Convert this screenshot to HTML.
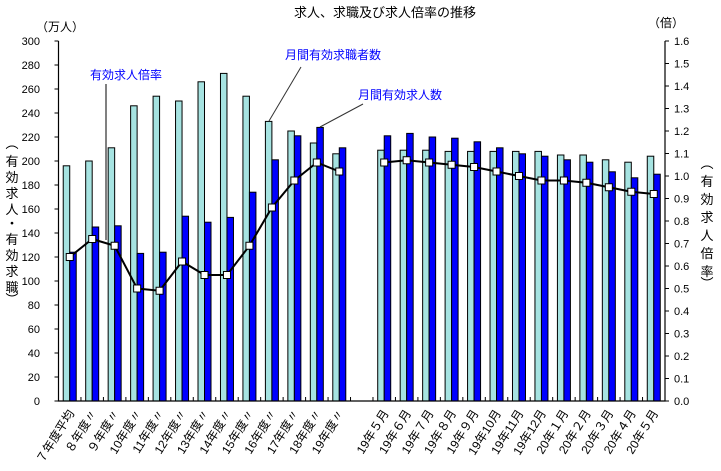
<!DOCTYPE html>
<html><head><meta charset="utf-8"><style>
body{margin:0;background:#fff;}
svg{display:block;font-family:"Liberation Sans","Noto Sans CJK JP",sans-serif;}
</style></head><body>
<svg id="c" width="721" height="471" viewBox="0 0 721 471">
<text x="385" y="17" font-size="13" text-anchor="middle">求人、求職及び求人倍率の推移</text>
<text x="60" y="31" font-size="12" text-anchor="middle">（万人）</text>
<text x="666" y="27" font-size="12" text-anchor="middle">（倍）</text>
<g font-size="13" text-anchor="middle">
<text x="12" y="148">︵</text><text x="12" y="166">有</text><text x="12" y="182">効</text><text x="12" y="198">求</text><text x="12" y="214">人</text><text x="12" y="228">・</text><text x="12" y="244">有</text><text x="12" y="260">効</text><text x="12" y="276">求</text><text x="12" y="292">職</text><text x="12" y="304">︶</text>
</g>
<g font-size="13" text-anchor="middle">
<text x="707" y="168">︵</text><text x="707" y="186">有</text><text x="707" y="204">効</text><text x="707" y="222">求</text><text x="707" y="240">人</text><text x="707" y="258">倍</text><text x="707" y="276">率</text><text x="707" y="288">︶</text>
</g>
<g id="plot"></g>
<g>
<text x="90" y="79" font-size="12" fill="#0000ff">有効求人倍率</text>
<line x1="106" y1="84" x2="106" y2="240" stroke="#000" stroke-width="1"/>
<text x="285" y="59" font-size="12" fill="#0000ff">月間有効求職者数</text>
<line x1="301" y1="67" x2="269" y2="121" stroke="#333" stroke-width="1"/>
<text x="358" y="99" font-size="12" fill="#0000ff">月間有効求人数</text>
<line x1="363" y1="104" x2="320" y2="127" stroke="#333" stroke-width="1"/>
</g>
</svg>
<script>
const categories=["７年度平均","８年度〃","９年度〃","10年度〃","11年度〃","12年度〃","13年度〃","14年度〃","15年度〃","16年度〃","17年度〃","18年度〃","19年度〃",null,"19年５月","19年６月","19年７月","19年８月","19年９月","19年10月","19年11月","19年12月","20年１月","20年２月","20年３月","20年４月","20年５月"];
const seekers=[196,200,211,246,254,250,266,273,254,233,225,215,206,null,209,209,209,208,208,208,208,208,205,205,201,199,204];
const openings=[124,145,146,123,124,154,149,153,174,201,221,228,211,null,221,223,220,219,216,211,206,204,201,199,191,186,189];
const ratio=[0.64,0.72,0.69,0.50,0.49,0.62,0.56,0.56,0.69,0.86,0.98,1.06,1.02,null,1.06,1.07,1.06,1.05,1.04,1.02,1.00,0.98,0.98,0.97,0.95,0.93,0.92];
const leftTicks=[0,20,40,60,80,100,120,140,160,180,200,220,240,260,280,300];
const rightTicks=["0.0","0.1","0.2","0.3","0.4","0.5","0.6","0.7","0.8","0.9","1.0","1.1","1.2","1.3","1.4","1.5","1.6"];

const X0=58.5,X1=665,Y0=401,YT=41,N=categories.length,slot=(X1-X0)/N;
const yL=v=>Y0-(v/300)*(Y0-YT);
const yR=v=>Y0-(v/1.6)*(Y0-YT);
const xc=i=>X0+slot*(i+0.5);
const NS="http://www.w3.org/2000/svg";
const g=document.getElementById('plot');
function mk(t,a){const e=document.createElementNS(NS,t);for(const k in a)e.setAttribute(k,a[k]);g.appendChild(e);return e;}
const bw=6.5;
categories.forEach((c,i)=>{
  if(c===null)return;
  const x=xc(i);
  const b1=mk('rect',{x:x-bw,y:yL(seekers[i]),width:bw,height:Y0-yL(seekers[i]),fill:'#a6e3e1',stroke:'#000','stroke-width':1});
  
  
  const b2=mk('rect',{x:x,y:yL(openings[i]),width:bw,height:Y0-yL(openings[i]),fill:'#0000ff',stroke:'#000','stroke-width':1});
  
  
  const t=mk('text',{x:0,y:0,'font-size':12,'text-anchor':'end',transform:`translate(${x+5},${413}) rotate(-58)`});
  t.textContent=c;
  
  
});
const ax=mk('path',{d:`M${X0},${YT}V${Y0}H${X1}V${YT}`,fill:'none',stroke:'#000','stroke-width':1.2});


for(let i=1;i<N;i++){const tk=mk('line',{x1:X0+slot*i,x2:X0+slot*i,y1:Y0,y2:Y0-4,stroke:'#000'});

}
leftTicks.forEach(v=>{
  const l=mk('line',{x1:X0-4,x2:X0,y1:yL(v),y2:yL(v),stroke:'#000'});
  
  
  const t=mk('text',{x:40,y:yL(v)+4,'font-size':11,'text-anchor':'end'});t.textContent=v;
  
  
});
rightTicks.forEach(s=>{
  const v=parseFloat(s);
  const l=mk('line',{x1:X1,x2:X1+4,y1:yR(v),y2:yR(v),stroke:'#000'});
  
  
  const t=mk('text',{x:674,y:yR(v)+4,'font-size':11});t.textContent=s;
  
  
});
[[0,12],[14,26]].forEach(([a,b])=>{
  let d='';for(let i=a;i<=b;i++)d+=(i===a?'M':'L')+xc(i)+','+yR(ratio[i]);
  const p=mk('path',{d,fill:'none',stroke:'#000','stroke-width':2});
  
  
});
ratio.forEach((r,i)=>{
  if(r===null)return;
  const m=mk('rect',{x:xc(i)-3.5,y:yR(r)-3.5,width:7,height:7,fill:'#fff',stroke:'#000','stroke-width':1});
  
  
});
</script>
</body></html>
